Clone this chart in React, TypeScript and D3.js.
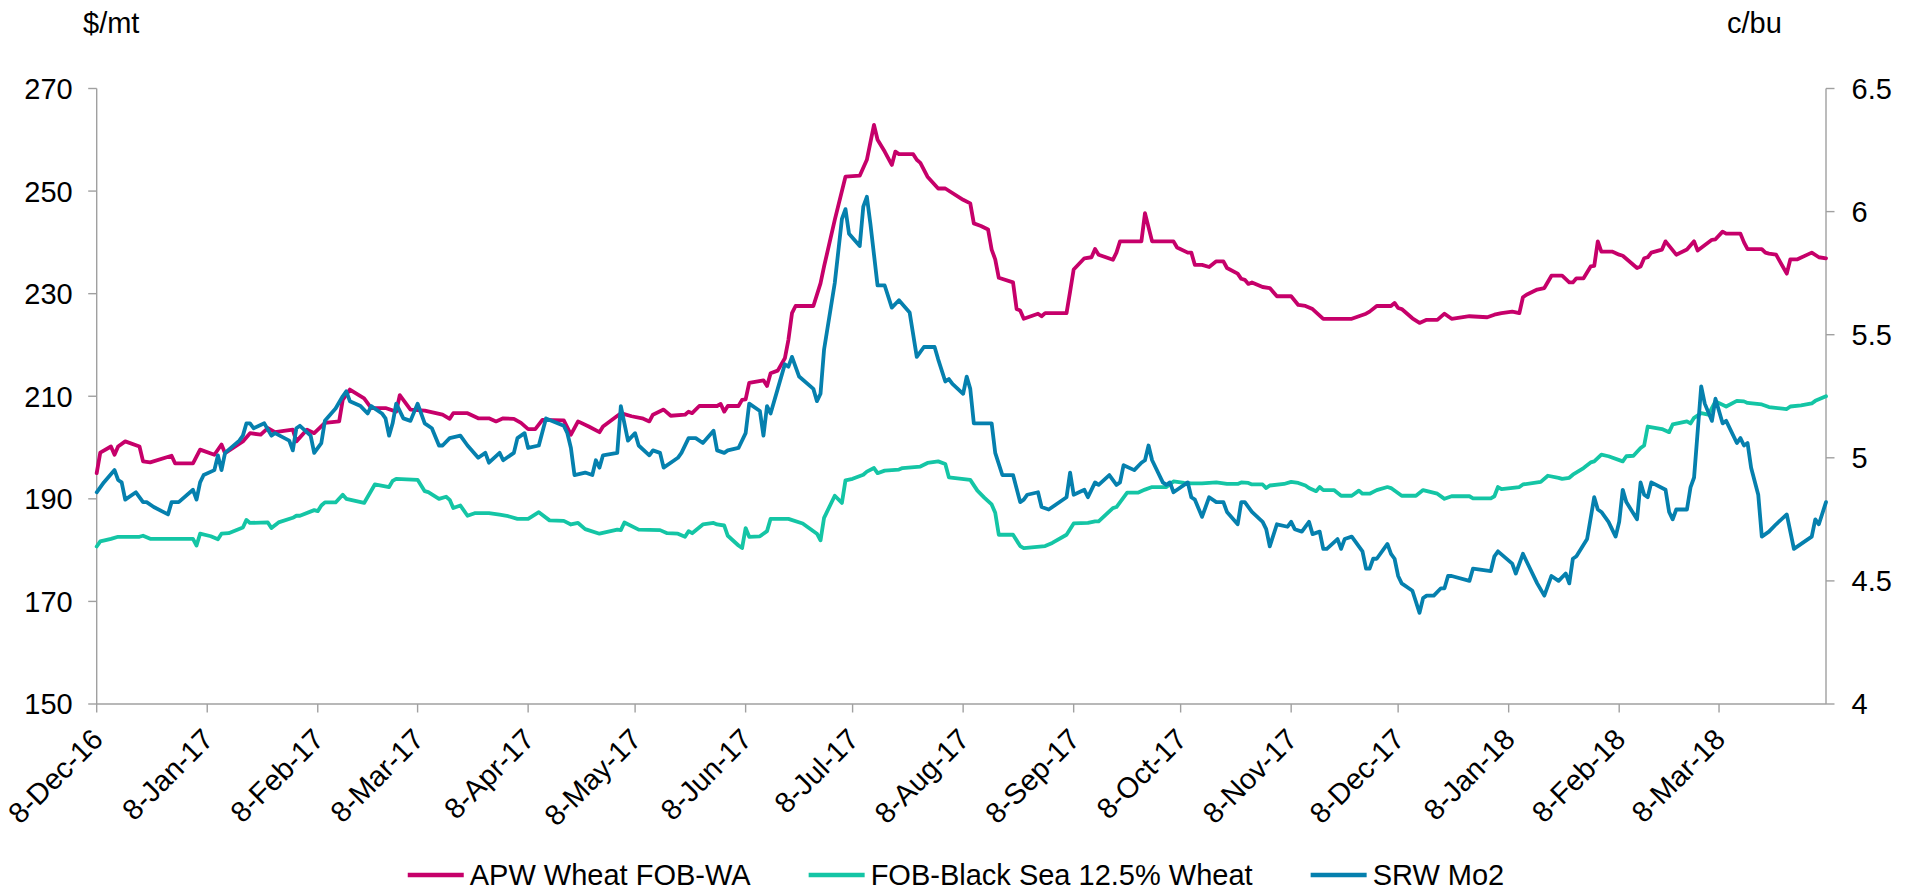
import React from 'react';
import * as d3 from 'd3';

// x values are days since 8-Dec-2016
const START_DATE = '2016-12-08';
const END_DAY = 485;

const X_TICK_DATES = [
  '2016-12-08', '2017-01-08', '2017-02-08', '2017-03-08', '2017-04-08', '2017-05-08',
  '2017-06-08', '2017-07-08', '2017-08-08', '2017-09-08', '2017-10-08', '2017-11-08',
  '2017-12-08', '2018-01-08', '2018-02-08', '2018-03-08',
];
const LEFT_TICKS = [150, 170, 190, 210, 230, 250, 270];
const RIGHT_TICKS = [4, 4.5, 5, 5.5, 6, 6.5];

// APW Wheat FOB-WA, $/mt (left axis)
const APW: [number, number][] = [
  [0,195],[1,199],[4,200.2],[5,198.6],[6,200.2],[8,201.2],[12,200.2],[13,197.3],[15,197.1],[21,198.4],[22,196.9],[27,196.9],[29,199.6],[33,198.6],[35,200.6],[36,198.9],[41,201.2],[43,202.8],[46,202.5],[48,203.8],[50,203],[55,203.5],[56,201.2],[59,203.5],[61,202.8],[64,204.8],[68,205.1],[69,209.3],[71,211.3],[75,209.6],[77,207.7],[81,207.7],[84,207],[85,210.2],[88,207.4],[92,207.2],[97,206.4],[99,205.6],[100,206.7],[104,206.7],[107,205.7],[110,205.7],[112,205.1],[114,205.7],[117,205.6],[119,204.8],[121,203.6],[123,203.6],[125,205.4],[131,205.3],[133,202.5],[135,205.1],[138,204.1],[141,203],[142,204.1],[147,206.7],[150,206.1],[153,205.7],[155,205.1],[156,206.4],[159,207.4],[161,206.2],[165,206.4],[166,207],[167,206.7],[169,208.1],[174,208.1],[175,208.5],[176,207],[177,208.1],[180,208.1],[181,209.3],[182,209.4],[183,212.6],[187,213.1],[188,212],[189,214.5],[191,215],[193,217.4],[194,221],[195,226.2],[196,227.6],[201,227.6],[203,232],[204,235.3],[207,244.4],[210,252.8],[214,253],[216,256.1],[218,262.9],[219,260],[221,257.7],[223,255.1],[224,257.7],[225,257.2],[229,257.2],[230,256.1],[231,255.5],[233,252.8],[236,250.5],[238,250.5],[243,248.3],[245,247.6],[246,243.7],[248,243.2],[250,242.5],[251,238.6],[252,236.7],[253,233.1],[257,232.2],[258,227],[259,226.7],[260,225.1],[264,226.1],[265,225.6],[266,226.2],[272,226.2],[273,230.4],[274,234.7],[277,236.9],[279,237.1],[280,238.7],[281,237.6],[285,236.6],[286,238],[287,240.2],[293,240.2],[294,245.7],[296,240.2],[302,240.2],[303,239],[306,238],[307,238],[308,235.6],[310,235.6],[312,235.2],[314,236.3],[316,236.3],[317,235],[320,233.9],[321,232.9],[322,232.7],[323,231.9],[324,232.2],[327,231.3],[329,231.1],[331,229.5],[335,229.5],[337,227.8],[339,227.6],[341,227],[344,225.1],[352,225.1],[354,225.6],[356,226.1],[357,226.5],[359,227.6],[363,227.6],[364,228.2],[365,227.2],[366,227],[369,225.2],[371,224.3],[373,224.9],[376,224.9],[378,226.1],[380,225.1],[385,225.6],[390,225.4],[392,225.9],[394,226.2],[397,226.5],[399,226.2],[400,229.3],[401,229.8],[404,230.8],[406,231.1],[408,233.5],[411,233.5],[413,232.2],[414,232.2],[415,233],[417,233],[419,235.3],[420,235.4],[421,240.2],[422,238.2],[425,238.2],[427,237.6],[428,237.4],[432,235],[433,235.3],[434,236.9],[435,237.1],[436,238],[439,238.6],[440,240.2],[443,237.6],[446,238.6],[448,240.2],[449,238.4],[453,240.5],[454,240.6],[456,242.1],[457,241.7],[461,241.7],[462,240],[463,238.7],[467,238.7],[468,238],[469,237.8],[471,237.6],[474,233.9],[475,236.7],[477,236.7],[481,238],[483,237.1],[485,236.9],
];

// FOB-Black Sea 12.5% Wheat, $/mt (left axis)
const BLACK_SEA: [number, number][] = [
  [0,180.7],[1,181.7],[4,182.2],[6,182.6],[12,182.6],[13,182.8],[15,182.2],[27,182.2],[28,180.9],[29,183.2],[32,182.7],[34,182.1],[35,183.2],[37,183.3],[41,184.4],[42,185.9],[43,185.3],[48,185.4],[49,184.3],[51,185.4],[55,186.3],[56,186.7],[57,186.7],[61,187.8],[62,187.6],[63,188.7],[64,189.3],[67,189.3],[69,190.8],[70,190],[75,189.2],[78,192.8],[82,192.3],[83,193.5],[84,193.9],[90,193.7],[92,191.5],[93,191.3],[96,190],[98,190.4],[99,189.8],[100,188.2],[102,188.7],[104,186.7],[106,187.2],[110,187.2],[113,186.9],[115,186.7],[118,186.1],[121,186.1],[124,187.4],[127,185.8],[131,185.7],[133,185],[135,185.3],[137,184.1],[141,183.2],[146,184],[147,183.9],[148,185.4],[152,184],[158,183.9],[160,183.3],[163,183.2],[165,182.6],[166,183.7],[167,183.3],[170,185],[173,185.3],[174,185],[176,184.8],[177,182.8],[180,180.9],[181,180.4],[182,184.3],[183,182.6],[186,182.7],[188,183.7],[189,186.1],[194,186.1],[198,185.2],[202,183.2],[203,181.9],[204,186.3],[207,190.6],[209,189.2],[210,193.6],[212,193.9],[215,194.7],[216,195.3],[218,196],[219,195],[221,195.5],[225,195.7],[226,196],[231,196.3],[233,197],[236,197.3],[238,196.8],[239,194.2],[245,193.7],[247,191.6],[249,190.2],[251,188.9],[252,187.3],[253,183],[257,183],[259,180.8],[260,180.4],[266,180.8],[268,181.4],[272,183],[274,185.2],[278,185.3],[280,185.6],[281,185.6],[285,188.2],[286,188.4],[289,191.2],[292,191.2],[294,191.8],[296,192.3],[300,192.3],[302,193.4],[305,193.1],[307,193],[310,193],[314,193.2],[317,192.9],[320,192.9],[321,193.2],[323,193.1],[324,192.8],[327,192.8],[328,192.1],[329,192.6],[333,192.9],[335,193.3],[337,193.1],[339,192.6],[340,192.1],[342,191.5],[343,192.3],[344,191.7],[347,191.7],[349,190.6],[352,190.6],[354,191.6],[355,191],[357,191],[359,191.7],[362,192.3],[363,192.1],[366,190.6],[370,190.6],[372,191.7],[376,191],[378,190],[380,190.5],[385,190.5],[386,190.1],[391,190.1],[392,190.5],[393,192.3],[394,191.9],[399,192.3],[400,192.8],[405,193.3],[407,194.5],[410,194.1],[411,193.9],[413,194.1],[414,194.7],[417,196],[419,197.1],[420,197.3],[422,198.6],[424,198.3],[428,197.3],[429,198.3],[431,198.4],[433,199.9],[434,200.4],[435,204.1],[439,203.6],[441,203],[442,204.5],[446,205.1],[447,204.7],[448,205.8],[450,206.7],[452,206.4],[454,209],[457,208],[460,209.1],[462,209],[463,208.7],[467,208.4],[469,207.9],[474,207.5],[475,208],[478,208.2],[481,208.6],[482,209.1],[485,210],
];

// SRW Mo2, c/bu (right axis)
const SRW: [number, number][] = [
  [0,4.86],[2,4.90],[5,4.95],[6,4.91],[7,4.90],[8,4.83],[11,4.86],[13,4.82],[14,4.82],[16,4.80],[20,4.77],[21,4.82],[23,4.82],[27,4.87],[28,4.83],[29,4.90],[30,4.93],[33,4.95],[34,5.01],[35,4.95],[36,5.02],[40,5.07],[41,5.09],[42,5.14],[43,5.14],[44,5.12],[47,5.14],[49,5.09],[50,5.10],[54,5.07],[55,5.03],[56,5.12],[57,5.13],[60,5.09],[61,5.02],[63,5.06],[64,5.15],[67,5.20],[69,5.25],[70,5.27],[71,5.23],[74,5.21],[76,5.18],[77,5.21],[80,5.18],[81,5.16],[82,5.09],[83,5.14],[84,5.22],[86,5.16],[88,5.15],[90,5.22],[92,5.14],[94,5.12],[96,5.05],[97,5.05],[99,5.08],[102,5.09],[104,5.05],[107,5.00],[109,5.02],[110,4.98],[113,5.02],[114,4.99],[117,5.02],[118,5.08],[120,5.10],[121,5.04],[124,5.05],[126,5.16],[131,5.13],[132,5.10],[133,5.04],[134,4.93],[137,4.94],[139,4.93],[140,4.99],[141,4.96],[142,5.01],[146,5.02],[147,5.21],[149,5.07],[151,5.10],[152,5.05],[155,5.01],[156,5.03],[158,5.02],[159,4.96],[162,4.99],[163,5.00],[164,5.02],[166,5.08],[167,5.08],[168,5.08],[170,5.06],[173,5.11],[174,5.03],[176,5.02],[177,5.03],[180,5.04],[182,5.10],[183,5.22],[186,5.19],[187,5.09],[188,5.21],[189,5.18],[191,5.28],[193,5.38],[194,5.37],[195,5.41],[197,5.33],[201,5.28],[202,5.23],[203,5.26],[204,5.44],[207,5.71],[209,5.97],[210,6.01],[211,5.91],[214,5.86],[215,6.02],[216,6.06],[217,5.95],[219,5.70],[221,5.70],[223,5.61],[225,5.64],[228,5.59],[230,5.41],[232,5.45],[235,5.45],[236,5.40],[238,5.31],[239,5.32],[240,5.30],[243,5.26],[244,5.33],[245,5.28],[246,5.14],[248,5.14],[251,5.14],[252,5.02],[254,4.93],[257,4.93],[259,4.82],[260,4.83],[261,4.85],[264,4.86],[265,4.80],[267,4.79],[272,4.84],[273,4.94],[274,4.85],[277,4.87],[278,4.84],[280,4.90],[281,4.89],[284,4.93],[286,4.89],[287,4.90],[288,4.97],[291,4.95],[293,4.98],[294,4.99],[295,5.05],[296,4.99],[299,4.90],[300,4.89],[301,4.90],[302,4.86],[306,4.90],[307,4.84],[308,4.83],[310,4.76],[312,4.84],[314,4.82],[316,4.82],[317,4.78],[320,4.73],[321,4.82],[322,4.82],[324,4.78],[327,4.74],[328,4.71],[329,4.64],[331,4.73],[334,4.72],[335,4.74],[336,4.71],[338,4.70],[340,4.74],[341,4.69],[343,4.70],[344,4.63],[345,4.63],[348,4.67],[349,4.63],[350,4.67],[352,4.68],[355,4.62],[356,4.55],[357,4.55],[358,4.59],[359,4.59],[362,4.65],[363,4.61],[364,4.59],[365,4.52],[366,4.49],[369,4.46],[371,4.37],[372,4.43],[373,4.44],[375,4.44],[377,4.47],[378,4.47],[379,4.52],[380,4.52],[385,4.50],[386,4.55],[391,4.54],[392,4.60],[393,4.62],[397,4.57],[398,4.53],[400,4.61],[401,4.58],[404,4.49],[406,4.44],[408,4.52],[410,4.50],[412,4.53],[413,4.49],[414,4.59],[415,4.60],[418,4.67],[420,4.84],[421,4.79],[422,4.78],[424,4.74],[426,4.68],[427,4.74],[428,4.87],[429,4.82],[432,4.75],[433,4.90],[434,4.85],[435,4.84],[436,4.90],[440,4.87],[441,4.78],[442,4.75],[443,4.79],[446,4.79],[447,4.88],[448,4.92],[450,5.29],[451,5.22],[453,5.15],[454,5.24],[456,5.14],[457,5.15],[460,5.06],[461,5.08],[462,5.05],[463,5.06],[464,4.96],[466,4.85],[467,4.68],[469,4.70],[471,4.73],[474,4.77],[476,4.63],[481,4.68],[482,4.75],[483,4.73],[485,4.82],
];

const SERIES_NAMES = ['APW Wheat FOB-WA', 'FOB-Black Sea 12.5% Wheat', 'SRW Mo2'];
const SERIES_COLORS = ['#C6006A', '#14C5A5', '#0580AE'];

const FONT = '"Liberation Sans", Arial, Helvetica, sans-serif';
const FS = 29;
const AXIS_COLOR = '#A0A0A0';

const startMs = Date.parse(START_DATE + 'T00:00:00Z');
const dayToDate = (d: number) => new Date(startMs + d * 86400000);

function measure(s: string): number {
  const c = document.createElement('canvas').getContext('2d');
  if (!c) return s.length * FS * 0.55;
  c.font = `${FS}px ${FONT}`;
  return c.measureText(s).width;
}

export default function App() {
  const W = 1912, H = 892;
  const L = 96.7, R = 1826, T = 88.5, B = 704;

  const x = d3.scaleUtc().domain([dayToDate(0), dayToDate(END_DAY)]).range([L, R]);
  const yL = d3.scaleLinear().domain([150, 270]).range([B, T]);
  const yR = d3.scaleLinear().domain([4, 6.5]).range([B, T]);

  const lineL = d3.line<[number, number]>().x(p => x(dayToDate(p[0]))).y(p => yL(p[1]));
  const lineR = d3.line<[number, number]>().x(p => x(dayToDate(p[0]))).y(p => yR(p[1]));

  const fmt = d3.utcFormat('%-d-%b-%y');
  const tickDates = X_TICK_DATES.map(s => new Date(s + 'T00:00:00Z'));

  // legend layout
  const lineLen = 56, gapText = 6, gapItem = 58;
  const widths = SERIES_NAMES.map(measure);
  const total = widths.reduce((a, w) => a + lineLen + gapText + w, 0) + gapItem * (SERIES_NAMES.length - 1);
  let lx = W / 2 - total / 2;
  const legendItems = SERIES_NAMES.map((name, i) => {
    const item = { name, color: SERIES_COLORS[i], x: lx };
    lx += lineLen + gapText + widths[i] + gapItem;
    return item;
  });
  const legendY = 875;

  const paths = [
    { d: lineL(APW), color: SERIES_COLORS[0] },
    { d: lineL(BLACK_SEA), color: SERIES_COLORS[1] },
    { d: lineR(SRW), color: SERIES_COLORS[2] },
  ];

  return (
    <svg width={W} height={H} style={{ position: 'absolute', left: 0, top: 0, display: 'block', background: '#fff' }}
      fontFamily={FONT}>
      <rect x={0} y={0} width={W} height={H} fill="#fff" />
      {/* unit labels */}
      <text x={83} y={33} fontSize={FS} fill="#000">$/mt</text>
      <text x={1727} y={33} fontSize={FS} fill="#000">c/bu</text>

      {/* left axis */}
      <line x1={L} x2={L} y1={T} y2={B} stroke={AXIS_COLOR} strokeWidth={1.4} />
      {LEFT_TICKS.map(v => (
        <g key={'l' + v}>
          <line x1={L - 8.5} x2={L} y1={yL(v)} y2={yL(v)} stroke={AXIS_COLOR} strokeWidth={1.4} />
          <text x={L - 24} y={yL(v)} dy="0.36em" textAnchor="end" fontSize={FS} fill="#000">{v}</text>
        </g>
      ))}

      {/* right axis */}
      <line x1={R} x2={R} y1={T} y2={B} stroke={AXIS_COLOR} strokeWidth={1.4} />
      {RIGHT_TICKS.map(v => (
        <g key={'r' + v}>
          <line x1={R} x2={R + 8.5} y1={yR(v)} y2={yR(v)} stroke={AXIS_COLOR} strokeWidth={1.4} />
          <text x={R + 25.5} y={yR(v)} dy="0.36em" textAnchor="start" fontSize={FS} fill="#000">{v}</text>
        </g>
      ))}

      {/* bottom axis */}
      <line x1={L} x2={R} y1={B} y2={B} stroke={AXIS_COLOR} strokeWidth={1.4} />
      {tickDates.map((d, i) => {
        const tx = x(d);
        return (
          <g key={'x' + i}>
            <line x1={tx} x2={tx} y1={B} y2={B + 8.5} stroke={AXIS_COLOR} strokeWidth={1.4} />
            <text transform={`translate(${tx + 8},${B + 37}) rotate(-45)`} textAnchor="end" fontSize={FS} fill="#000">
              {fmt(d)}
            </text>
          </g>
        );
      })}

      {/* series */}
      {paths.map((p, i) => (
        <path key={'s' + i} d={p.d || ''} fill="none" stroke={p.color} strokeWidth={3.8}
          strokeLinejoin="round" strokeLinecap="round" />
      ))}

      {/* legend */}
      {legendItems.map(it => (
        <g key={it.name}>
          <line x1={it.x} x2={it.x + lineLen} y1={legendY} y2={legendY} stroke={it.color} strokeWidth={4.5} />
          <text x={it.x + lineLen + gapText} y={legendY} dy="0.36em" fontSize={FS} fill="#000">{it.name}</text>
        </g>
      ))}
    </svg>
  );
}
